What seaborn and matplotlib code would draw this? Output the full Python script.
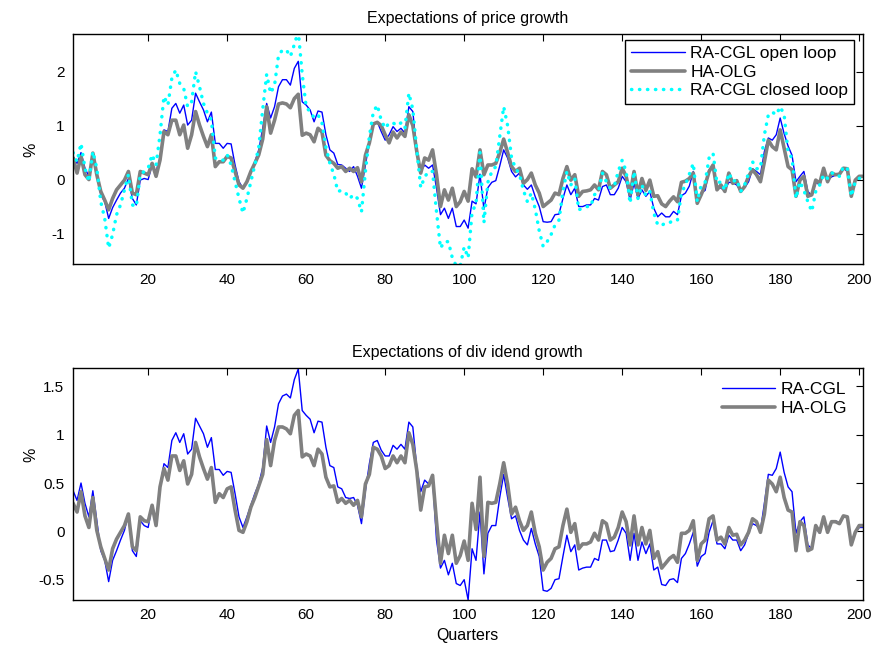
import numpy as np
import pandas as pd
import matplotlib
matplotlib.use("Agg")
import matplotlib.pyplot as plt
import seaborn as sns

quarters = list(range(1, 202))

price_open_loop = [
    0.43, 0.30, 0.50, 0.21, 0.06, 0.49, 0.12, -0.28, -0.41, -0.72,
    -0.52, -0.38, -0.25, -0.16, 0.02, -0.35, -0.47, -0.01, 0.02, 0.00,
    0.27, 0.15, 0.40, 0.92, 0.89, 1.32, 1.41, 1.23, 1.38, 1.01,
    1.10, 1.60, 1.44, 1.29, 1.07, 1.25, 0.67, 0.67, 0.58, 0.67,
    0.66, 0.27, -0.04, -0.16, -0.04, 0.15, 0.33, 0.55, 0.95, 1.41,
    1.14, 1.35, 1.72, 1.85, 1.85, 1.75, 2.06, 2.19, 1.44, 1.38,
    1.29, 1.07, 1.27, 1.25, 0.83, 0.55, 0.49, 0.28, 0.27, 0.21,
    0.15, 0.24, 0.06, -0.16, 0.27, 0.70, 1.01, 1.07, 0.89, 0.73,
    0.83, 0.98, 0.89, 0.95, 0.86, 1.35, 1.26, 0.52, 0.15, 0.27,
    0.21, 0.27, -0.16, -0.65, -0.53, -0.72, -0.53, -0.87, -0.87, -0.75,
    -0.90, -0.40, -0.45, 0.10, -0.55, -0.15, -0.05, -0.02, 0.25, 0.55,
    0.40, 0.15, 0.05, 0.12, -0.10, -0.18, -0.10, -0.32, -0.50, -0.78,
    -0.79, -0.78, -0.65, -0.64, -0.35, -0.10, -0.28, -0.16, -0.50, -0.50,
    -0.47, -0.47, -0.35, -0.38, -0.13, -0.10, -0.28, -0.28, -0.16, 0.06,
    -0.04, -0.38, -0.07, -0.35, -0.19, -0.31, -0.22, -0.53, -0.69, -0.62,
    -0.69, -0.69, -0.59, -0.65, -0.30, -0.25, -0.12, 0.15, -0.44, -0.25,
    -0.20, 0.18, 0.20, -0.12, -0.16, -0.20, -0.05, -0.06, -0.10, -0.22,
    -0.15, -0.04, 0.20, 0.15, 0.09, 0.52, 0.77, 0.73, 0.83, 1.14,
    0.85, 0.62, 0.45, -0.04, 0.06, 0.15, -0.22, -0.30, -0.05, -0.10,
    0.12, -0.01, 0.05, 0.08, 0.09, 0.21, 0.15, -0.28, -0.01, 0.06, 0.06,
]

price_ha_olg = [
    0.40, 0.12, 0.43, 0.09, 0.00, 0.49, 0.09, -0.22, -0.38, -0.56,
    -0.35, -0.19, -0.10, -0.01, 0.15, -0.25, -0.28, 0.15, 0.12, 0.09,
    0.30, 0.06, 0.36, 0.89, 0.83, 1.10, 1.10, 0.83, 1.01, 0.58,
    0.83, 1.26, 1.01, 0.80, 0.61, 0.83, 0.24, 0.33, 0.33, 0.43,
    0.40, 0.15, -0.10, -0.16, -0.04, 0.15, 0.30, 0.46, 0.75, 1.35,
    0.86, 1.10, 1.40, 1.42, 1.40, 1.33, 1.50, 1.58, 0.82, 0.86,
    0.83, 0.70, 0.95, 0.88, 0.45, 0.35, 0.30, 0.21, 0.24, 0.15,
    0.21, 0.15, 0.22, -0.04, 0.45, 0.68, 1.03, 1.06, 1.00, 0.83,
    0.68, 0.88, 0.77, 0.88, 0.80, 1.20, 1.00, 0.52, 0.12, 0.40,
    0.36, 0.55, 0.09, -0.50, -0.19, -0.38, -0.16, -0.50, -0.41, -0.22,
    -0.40, 0.20, 0.05, 0.55, 0.09, 0.27, 0.27, 0.30, 0.50, 0.75,
    0.50, 0.24, 0.15, 0.21, -0.07, 0.00, 0.12, -0.10, -0.25, -0.50,
    -0.44, -0.38, -0.25, -0.28, 0.02, 0.24, -0.01, 0.09, -0.31, -0.22,
    -0.21, -0.19, -0.10, -0.19, 0.15, 0.09, -0.16, -0.10, -0.04, 0.21,
    0.06, -0.28, 0.15, -0.28, 0.02, -0.20, -0.01, -0.31, -0.30, -0.45,
    -0.50, -0.40, -0.32, -0.41, -0.05, -0.03, 0.02, 0.12, -0.44, -0.28,
    -0.10, 0.15, 0.27, -0.19, -0.10, -0.22, 0.12, -0.07, -0.02, -0.22,
    -0.13, 0.06, 0.18, 0.09, -0.04, 0.33, 0.73, 0.61, 0.55, 0.92,
    0.58, 0.24, 0.18, -0.31, -0.01, 0.06, -0.31, -0.28, -0.01, -0.07,
    0.21, -0.04, 0.12, 0.09, 0.10, 0.21, 0.20, -0.31, -0.01, 0.06, 0.06,
]

price_closed_loop = [
    0.50, 0.33, 0.67, 0.21, -0.04, 0.52, 0.21, -0.41, -0.72, -1.27,
    -1.02, -0.65, -0.47, -0.19, 0.09, -0.47, -0.50, 0.09, 0.15, 0.21,
    0.46, 0.27, 0.83, 1.54, 1.38, 1.88, 2.03, 1.78, 1.69, 1.35,
    1.44, 2.00, 1.72, 1.41, 1.23, 1.10, 0.40, 0.36, 0.36, 0.46,
    0.27, -0.04, -0.35, -0.62, -0.35, -0.04, 0.27, 0.60, 1.30, 1.95,
    1.60, 1.75, 2.30, 2.40, 2.40, 2.28, 2.50, 2.75, 1.95, 1.35,
    1.25, 1.15, 1.20, 1.05, 0.60, 0.30, 0.10, -0.22, -0.20, -0.25,
    -0.35, -0.28, -0.35, -0.60, 0.15, 0.80, 1.25, 1.38, 1.10, 0.95,
    1.05, 1.05, 1.00, 1.05, 0.95, 1.60, 1.30, 0.55, -0.15, 0.05,
    0.15, 0.15, -0.60, -1.27, -1.15, -1.15, -1.45, -1.60, -1.60, -1.25,
    -1.45, -0.60, -0.45, 0.50, -0.80, -0.05, 0.15, 0.24, 0.80, 1.35,
    1.00, 0.40, 0.21, 0.10, -0.20, -0.41, -0.25, -0.55, -0.95, -1.24,
    -1.15, -1.02, -0.84, -0.75, -0.22, 0.15, -0.10, 0.02, -0.56, -0.53,
    -0.50, -0.50, -0.28, -0.22, 0.12, -0.04, -0.16, -0.12, 0.15, 0.36,
    0.15, -0.44, 0.15, -0.35, -0.10, -0.30, -0.22, -0.62, -0.84, -0.85,
    -0.80, -0.80, -0.75, -0.75, -0.25, -0.10, 0.10, 0.30, -0.41, -0.10,
    -0.05, 0.40, 0.49, -0.07, -0.04, -0.20, 0.12, -0.04, 0.00, -0.22,
    -0.10, 0.12, 0.33, 0.20, 0.21, 0.83, 1.20, 1.25, 1.20, 1.35,
    1.20, 0.50, 0.40, -0.35, -0.04, -0.20, -0.41, -0.59, -0.22, -0.10,
    0.09, 0.02, 0.12, 0.12, 0.06, 0.24, 0.21, -0.31, -0.04, 0.02, 0.06,
]

div_ra_cgl = [
    0.42, 0.32, 0.50, 0.29, 0.15, 0.42, 0.11, -0.20, -0.30, -0.52,
    -0.30, -0.20, -0.09, 0.01, 0.18, -0.20, -0.26, 0.11, 0.06, 0.04,
    0.27, 0.08, 0.46, 0.70, 0.66, 0.94, 1.02, 0.92, 1.01, 0.80,
    0.85, 1.17, 1.09, 1.01, 0.87, 0.97, 0.64, 0.64, 0.58, 0.62,
    0.61, 0.39, 0.15, 0.04, 0.15, 0.27, 0.39, 0.49, 0.66, 1.09,
    0.92, 1.08, 1.32, 1.40, 1.42, 1.38, 1.57, 1.68, 1.25, 1.20,
    1.16, 1.02, 1.14, 1.13, 0.87, 0.68, 0.66, 0.46, 0.44, 0.35,
    0.34, 0.35, 0.27, 0.08, 0.42, 0.70, 0.92, 0.94, 0.84, 0.78,
    0.78, 0.89, 0.85, 0.90, 0.85, 1.13, 1.08, 0.66, 0.41, 0.53,
    0.49, 0.55, -0.09, -0.38, -0.30, -0.45, -0.33, -0.54, -0.56, -0.50,
    -0.71, -0.18, -0.30, 0.20, -0.44, -0.02, 0.06, 0.06, 0.35, 0.59,
    0.35, 0.13, 0.16, 0.01, -0.09, -0.14, 0.03, -0.13, -0.26, -0.61,
    -0.62, -0.59, -0.50, -0.49, -0.26, -0.04, -0.21, -0.14, -0.40, -0.38,
    -0.37, -0.37, -0.28, -0.30, -0.09, -0.09, -0.21, -0.20, -0.09, 0.04,
    -0.02, -0.30, -0.02, -0.30, -0.11, -0.23, -0.13, -0.40, -0.37, -0.55,
    -0.56, -0.50, -0.49, -0.53, -0.28, -0.23, -0.13, -0.01, -0.36, -0.26,
    -0.23, -0.01, 0.11, -0.13, -0.13, -0.18, -0.04, -0.09, -0.09, -0.20,
    -0.14, -0.02, 0.08, 0.06, 0.01, 0.29, 0.59, 0.58, 0.65, 0.82,
    0.61, 0.46, 0.41, -0.02, 0.10, 0.15, -0.14, -0.18, 0.04, -0.02,
    0.15, 0.01, 0.10, 0.11, 0.08, 0.16, 0.15, -0.14, -0.01, 0.04, 0.04,
]

div_ha_olg = [
    0.29, 0.20, 0.41, 0.16, 0.04, 0.35, 0.01, -0.16, -0.28, -0.40,
    -0.18, -0.08, -0.01, 0.06, 0.18, -0.16, -0.20, 0.15, 0.11, 0.10,
    0.27, 0.06, 0.46, 0.65, 0.53, 0.78, 0.78, 0.63, 0.73, 0.49,
    0.59, 0.92, 0.77, 0.65, 0.54, 0.66, 0.30, 0.39, 0.35, 0.44,
    0.46, 0.22, 0.01, -0.01, 0.10, 0.25, 0.35, 0.47, 0.59, 0.95,
    0.68, 0.94, 1.08, 1.08, 1.06, 1.01, 1.20, 1.25, 0.77, 0.80,
    0.78, 0.68, 0.85, 0.80, 0.56, 0.46, 0.47, 0.30, 0.34, 0.29,
    0.32, 0.27, 0.32, 0.15, 0.49, 0.59, 0.87, 0.85, 0.78, 0.65,
    0.68, 0.78, 0.71, 0.78, 0.71, 1.02, 0.90, 0.63, 0.22, 0.46,
    0.47, 0.58, 0.10, -0.33, -0.04, -0.23, -0.04, -0.33, -0.25, -0.10,
    -0.30, 0.29, 0.02, 0.56, -0.26, 0.30, 0.29, 0.30, 0.49, 0.71,
    0.49, 0.18, 0.25, 0.11, 0.01, 0.06, 0.20, -0.02, -0.16, -0.40,
    -0.32, -0.28, -0.18, -0.16, 0.06, 0.23, -0.01, 0.08, -0.18, -0.13,
    -0.13, -0.11, -0.02, -0.09, 0.11, 0.08, -0.09, -0.06, 0.04, 0.20,
    0.10, -0.14, 0.16, -0.14, 0.04, -0.13, 0.01, -0.28, -0.21, -0.38,
    -0.33, -0.28, -0.25, -0.32, -0.02, -0.02, 0.01, 0.11, -0.30, -0.13,
    -0.09, 0.13, 0.16, -0.09, -0.06, -0.13, 0.04, -0.04, -0.03, -0.14,
    -0.09, -0.01, 0.13, 0.10, -0.01, 0.18, 0.53, 0.49, 0.41, 0.56,
    0.35, 0.22, 0.20, -0.20, 0.10, 0.06, -0.20, -0.18, 0.06, -0.01,
    0.15, -0.01, 0.10, 0.10, 0.08, 0.16, 0.15, -0.14, -0.01, 0.06, 0.06,
]

titles = ["Expectations of price growth", "Expectations of div idend growth"]
price_labels = ["RA-CGL open loop", "HA-OLG", "RA-CGL closed loop"]
div_labels = ["RA-CGL", "HA-OLG"]
xticks = [20, 40, 60, 80, 100, 120, 140, 160, 180, 200]
price_yticks = [-1, 0, 1, 2]
div_yticks = [-0.5, 0, 0.5, 1, 1.5]
div_yticklabels = ["-0.5", "0", "0.5", "1", "1.5"]

sns.set_style("white")
plt.rcParams['font.family'] = ['Liberation Sans', 'DejaVu Sans']
plt.rcParams['axes.unicode_minus'] = False
plt.rcParams['text.color'] = 'black'
plt.rcParams['axes.labelcolor'] = 'black'

fig = plt.figure(figsize=(8.75, 6.48), dpi=100)
ax1 = fig.add_axes([0.0831, 0.5921, 0.9029, 0.3549])
ax2 = fig.add_axes([0.0831, 0.0741, 0.9029, 0.3580])

BLUE = "#0000ff"
GRAY = "#808080"
CYAN = "#00ffff"

df_p = pd.DataFrame({"q": quarters, "open": price_open_loop,
                     "olg": price_ha_olg, "closed": price_closed_loop})
df_d = pd.DataFrame({"q": quarters, "cgl": div_ra_cgl, "olg": div_ha_olg})

sns.lineplot(data=df_p, x="q", y="open", ax=ax1, color=BLUE, lw=1.0,
             label=price_labels[0])
sns.lineplot(data=df_p, x="q", y="olg", ax=ax1, color=GRAY, lw=2.6,
             label=price_labels[1])
sns.lineplot(data=df_p, x="q", y="closed", ax=ax1, color=CYAN, lw=2.5,
             linestyle=(0, (0.1, 2.2)), dash_capstyle="round",
             label=price_labels[2])

sns.lineplot(data=df_d, x="q", y="cgl", ax=ax2, color=BLUE, lw=1.0,
             label=div_labels[0])
sns.lineplot(data=df_d, x="q", y="olg", ax=ax2, color=GRAY, lw=2.6,
             label=div_labels[1])

for ax in (ax1, ax2):
    ax.set_xlim(0.9, 200.9)
    ax.set_xticks(xticks)
    ax.tick_params(direction="in", top=True, right=True, length=5,
                   width=0.8, labelsize=11, pad=6, colors="black")
    for s in ax.spines.values():
        s.set_linewidth(1.0)
        s.set_color("black")
    ax.grid(False)
    ax.set_xlabel("")

ax1.set_ylim(-1.57, 2.69)
ax1.set_yticks(price_yticks)
ax2.set_ylim(-0.71, 1.69)
ax2.set_yticks(div_yticks)
ax2.set_yticklabels(div_yticklabels)

ax1.set_title(titles[0], fontsize=11.5, pad=8, color="black")
ax2.set_title(titles[1], fontsize=11.5, pad=8, color="black")
ax1.set_ylabel("%", fontsize=11.5)
ax2.set_ylabel("%", fontsize=11.5)
ax1.yaxis.set_label_coords(-0.043, 0.5)
ax2.yaxis.set_label_coords(-0.043, 0.625)
ax2.set_xlabel("Quarters", fontsize=11.5, labelpad=4)

leg1 = ax1.legend(loc="upper right", bbox_to_anchor=(0.989, 0.975),
                  borderaxespad=0, frameon=True, fancybox=False,
                  framealpha=1, edgecolor="black", fontsize=12.5,
                  handlelength=3.1, handletextpad=0.3, labelspacing=0.2,
                  borderpad=0.34, labelcolor="black")
leg1.get_frame().set_linewidth(1.0)

leg2 = ax2.legend(loc="upper right", bbox_to_anchor=(0.989, 0.972),
                  borderaxespad=0, frameon=False, fontsize=12.5,
                  handlelength=3.1, handletextpad=0.3, labelspacing=0.26,
                  labelcolor="black")

fig.savefig("out.png", dpi=100)
